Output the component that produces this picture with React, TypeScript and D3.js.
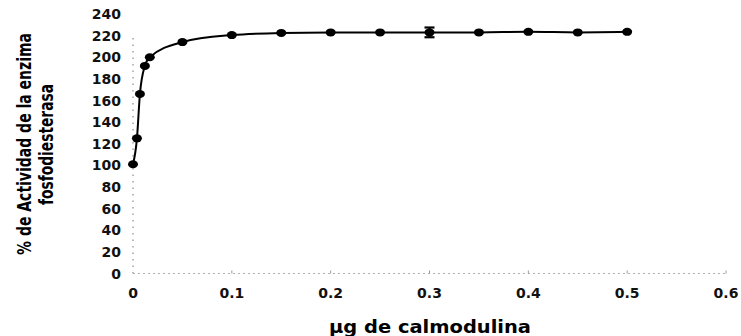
import React from "react";
import * as d3 from "d3";

const xValues = [0, 0.004, 0.007, 0.012, 0.017, 0.05, 0.1, 0.15, 0.2, 0.25, 0.3, 0.35, 0.4, 0.45, 0.5];
const yValues = [101, 125, 166, 192, 200, 214, 220.5, 222.5, 223, 223, 223, 223, 223.5, 223, 223.5];
const errValues = [0, 0, 0, 0, 0, 0, 0, 0, 0, 0, 4.5, 0, 0, 0, 0];
const xTicks = [0, 0.1, 0.2, 0.3, 0.4, 0.5, 0.6];
const yTicks = [0, 20, 40, 60, 80, 100, 120, 140, 160, 180, 200, 220, 240];
const yTitle1 = "% de Actividad de la enzima";
const yTitle2 = "fosfodiesterasa";
const xTitle = "\u00b5g de calmodulina";

const W = 741;
const H = 336;

export default function App() {
  const x = d3.scaleLinear().domain([0, 0.6]).range([133, 726]);
  const y = d3.scaleLinear().domain([0, 240]).range([273.5, 14]);
  const data = xValues.map((v, i) => ({ x: v, y: yValues[i], e: errValues[i] }));
  const line = d3
    .line<{ x: number; y: number }>()
    .x((d) => x(d.x))
    .y((d) => y(d.y))
    .curve(d3.curveMonotoneX);

  const tickFont = "'DejaVu Sans', Verdana, sans-serif";
  const narrowFont = "'Liberation Sans Narrow', 'DejaVu Sans Condensed', 'Arial Narrow', sans-serif";

  return (
    <svg
      width={W}
      height={H}
      style={{ position: "fixed", left: 0, top: 0, background: "#fff" }}
    >
      <rect x={0} y={0} width={W} height={H} fill="#fff" />
      {/* y axis dotted */}
      <line
        x1={x(0)}
        x2={x(0)}
        y1={y(0)}
        y2={y(222)}
        stroke="#777"
        strokeWidth={1}
        strokeDasharray="1.5,5"
      />
      {/* x axis dotted */}
      <line
        x1={x(0)}
        x2={x(0.6)}
        y1={y(0)}
        y2={y(0)}
        stroke="#b0b0b0"
        strokeWidth={1}
        strokeDasharray="2,3"
      />
      {xTicks.slice(1).map((t) => (
        <line key={"xt" + t} x1={x(t)} x2={x(t)} y1={y(0)} y2={y(0) - 3} stroke="#999" strokeWidth={1} />
      ))}
      {/* y tick labels */}
      {yTicks.map((t) => (
        <text
          key={"yl" + t}
          x={121}
          y={y(t)}
          dy="0.36em"
          textAnchor="end"
          fontFamily={tickFont}
          fontWeight="bold"
          fontSize={14}
          fill="#111"
        >
          {t}
        </text>
      ))}
      {/* x tick labels */}
      {xTicks.map((t) => (
        <text
          key={"xl" + t}
          x={x(t)}
          y={293}
          dy="0.36em"
          textAnchor="middle"
          fontFamily={tickFont}
          fontWeight="bold"
          fontSize={14}
          fill="#111"
        >
          {t === 0 ? "0" : d3.format(".1f")(t)}
        </text>
      ))}
      {/* line */}
      <path d={line(data) || ""} fill="none" stroke="#000" strokeWidth={2} />
      {/* error bars */}
      {data
        .filter((d) => d.e > 0)
        .map((d, i) => (
          <g key={"eb" + i} stroke="#000" strokeWidth={2.2}>
            <line x1={x(d.x)} x2={x(d.x)} y1={y(d.y - d.e)} y2={y(d.y + d.e)} />
            <line x1={x(d.x) - 5} x2={x(d.x) + 5} y1={y(d.y - d.e)} y2={y(d.y - d.e)} />
            <line x1={x(d.x) - 5} x2={x(d.x) + 5} y1={y(d.y + d.e)} y2={y(d.y + d.e)} />
          </g>
        ))}
      {/* markers */}
      {data.map((d, i) => (
        <ellipse key={"m" + i} cx={x(d.x)} cy={y(d.y)} rx={5} ry={4} fill="#000" />
      ))}
      {/* y title */}
      <g transform="translate(31,144) rotate(-90) scale(1,1.22)">
        <text
          x={0}
          y={0}
          textAnchor="middle"
          fontFamily={narrowFont}
          fontWeight="bold"
          fontSize={16}
          textLength={222}
          lengthAdjust="spacingAndGlyphs"
          fill="#000"
        >
          {yTitle1}
        </text>
      </g>
      <g transform="translate(53,144.5) rotate(-90) scale(1,1.22)">
        <text
          x={0}
          y={0}
          textAnchor="middle"
          fontFamily={narrowFont}
          fontWeight="bold"
          fontSize={16}
          textLength={121}
          lengthAdjust="spacingAndGlyphs"
          fill="#000"
        >
          {yTitle2}
        </text>
      </g>
      {/* x title */}
      <text
        x={430}
        y={333}
        textAnchor="middle"
        fontFamily={tickFont}
        fontWeight="bold"
        fontSize={17}
        textLength={202}
        lengthAdjust="spacingAndGlyphs"
        fill="#000"
      >
        {xTitle}
      </text>
    </svg>
  );
}
